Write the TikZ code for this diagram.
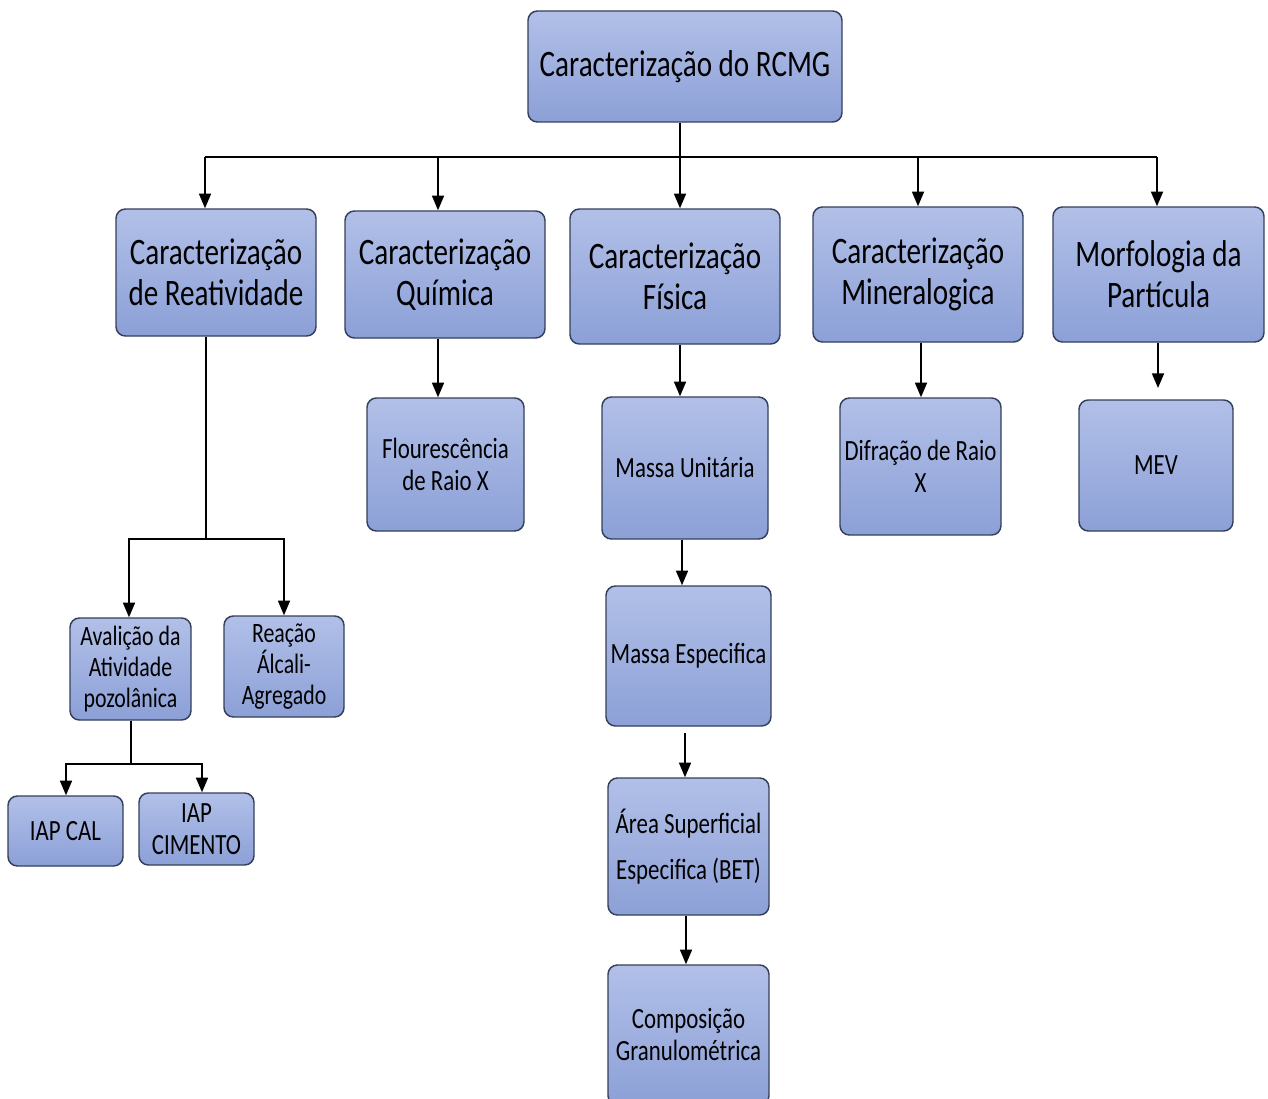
\documentclass[tikz,border=0pt]{standalone}
\usepackage{fontspec}
\setmainfont[FakeStretch=0.78]{Carlito}
\usetikzlibrary{arrows.meta}
\definecolor{btop}{HTML}{B2C0E8}
\definecolor{bbot}{HTML}{8CA0D7}
\definecolor{bord}{HTML}{34405C}
\begin{document}
\begin{tikzpicture}[x=0.75pt,y=-0.75pt,
 box/.style={draw=bord, line width=1.1pt, rounded corners=7pt, top color=btop, bottom color=bbot, inner sep=0pt, align=center, text=black},
 big/.style={box, font=\fontsize{28}{31}\selectfont},
 mid/.style={box, font=\fontsize{22}{24}\selectfont},
 sz/.style 2 args={minimum width=#1*0.75pt, minimum height=#2*0.75pt},
 ln/.style={line width=1.3pt},
 arr/.style={ln, -{Triangle[length=11pt,width=9pt]}}]
\clip (0,0) rectangle (1268,1099);
\fill[white] (0,0) rectangle (1268,1099);
% boxes
\node[big, sz={314}{111}] (top) at (685,66.5) {Caracterização do RCMG};
\node[big, sz={200}{127}] (r) at (216,272.5) {Caracterização\\de Reatividade};
\node[big, sz={200}{127}] (q) at (445,274.5) {Caracterização\\Química};
\node[big, sz={210}{135}] (f) at (675,276.5) {Caracterização\\Física};
\node[big, sz={210}{135}] (m) at (918,274.5) {Caracterização\\Mineralogica};
\node[big, sz={211}{135}] (p) at (1158.5,274.5) {Morfologia da\\Partícula};
\node[mid, sz={157}{133}] (fl) at (445.5,464.5) {Flourescência\\de Raio X};
\node[mid, sz={166}{142}] (mu) at (685,468) {Massa Unitária};
\node[mid, sz={165}{140}] (me) at (688.5,656) {Massa Especifica};
\node[mid, sz={161}{137}, font=\fontsize{22}{34}\selectfont] (as) at (688.5,846.5) {Área Superficial\\Especifica (BET)};
\node[mid, sz={161}{140}] (cg) at (688.5,1035) {Composição\\Granulométrica};
\node[mid, sz={161}{137}] (d) at (920.5,466.5) {Difração de Raio\\X};
\node[mid, sz={154}{131}] (mev) at (1156,465.5) {MEV};
\node[mid, sz={121}{102}, font=\fontsize{21}{23}\selectfont] (av) at (130.5,669) {Avalição da\\Atividade\\pozolânica};
\node[mid, sz={120}{101}, font=\fontsize{21}{23}\selectfont] (ra) at (284,666.5) {Reação\\Álcali-\\Agregado};
\node[mid, sz={115}{70}] (ic) at (65.5,831) {IAP CAL};
\node[mid, sz={115}{72}] (icm) at (196.5,829) {IAP\\CIMENTO};
% bus
\coordinate (b0) at (680,157);
\coordinate (b1) at (205,157);
\coordinate (b2) at (438,157);
\coordinate (b4) at (918,157);
\coordinate (b5) at (1157,157);
\draw[ln] (top.south -| b0) -- (b0);
\draw[ln] (b1) -- (b5);
\draw[arr] (b1) -- (r.north -| b1);
\draw[arr] (b2) -- (q.north -| b2);
\draw[arr] (b0) -- (f.north -| b0);
\draw[arr] (b4) -- (m.north -| b4);
\draw[arr] (b5) -- (p.north -| b5);
% reatividade
\coordinate (j1) at (206,539);
\coordinate (xa) at (129,0);
\coordinate (xr) at (284,0);
\draw[ln] (r.south -| j1) -- (j1);
\draw[arr] (j1) -| (av.north -| xa);
\draw[arr] (j1) -| (ra.north -| xr);
\coordinate (j2) at (131,764);
\coordinate (xc) at (66,0);
\coordinate (xm) at (202,0);
\draw[ln] (av.south -| j2) -- (j2);
\draw[arr] (j2) -| (ic.north -| xc);
\draw[arr] (j2) -| (icm.north -| xm);
% quimica
\coordinate (xq) at (438,0);
\draw[arr] (q.south -| xq) -- (fl.north -| xq);
% fisica
\coordinate (xf1) at (680,0);
\coordinate (xf2) at (682,0);
\coordinate (xf3) at (685,733);
\coordinate (xf4) at (686,0);
\draw[arr] (f.south -| xf1) -- (mu.north -| xf1);
\draw[arr] (mu.south -| xf2) -- (me.north -| xf2);
\draw[arr] (xf3) -- (as.north -| xf3);
\draw[arr] (as.south -| xf4) -- (cg.north -| xf4);
% mineralogica
\coordinate (xmi) at (921,0);
\draw[arr] (m.south -| xmi) -- (d.north -| xmi);
% morfologia
\coordinate (emev) at (1158,388);
\draw[arr] (p.south -| emev) -- (emev);
\end{tikzpicture}
\end{document}
